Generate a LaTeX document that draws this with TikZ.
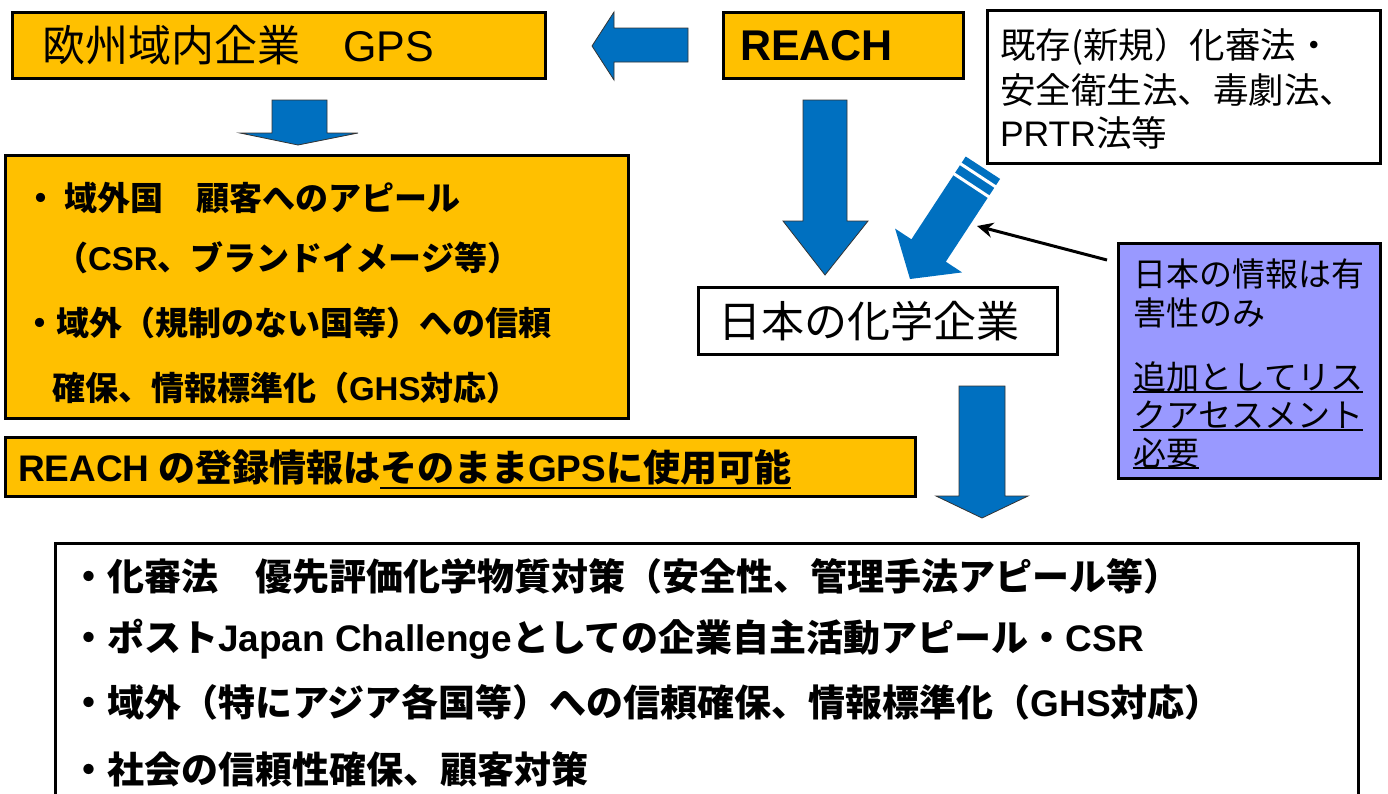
\documentclass[tikz,border=0pt]{standalone}
\usepackage{fontspec}
\setmainfont{Noto Sans CJK JP}
\newfontfamily\lsans{Liberation Sans}
\usetikzlibrary{arrows.meta}
\definecolor{orng}{HTML}{FFC000}
\definecolor{blu}{HTML}{0070C0}
\definecolor{purp}{HTML}{9999FF}
\newsavebox\ulbox
\newcommand\myul[2][-8pt]{\sbox\ulbox{#2}\rlap{\rule[#1]{\wd\ulbox}{2.5pt}}\usebox\ulbox}
\newcommand\la[1]{{\lsans #1}}
\newcommand\fs[1]{\fontsize{#1}{#1}\selectfont}
\begin{document}
\begin{tikzpicture}[x=1pt,y=-1pt,
  box/.style={draw=black, line width=3pt, anchor=north west, inner sep=0pt, outer sep=0pt},
  t/.style={anchor=base west, inner sep=0pt, outer sep=0pt},
  blockarrow/.style={fill=blu, draw=black!80, line width=0.8pt, line join=miter}]
\useasboundingbox (0,0) rectangle (1388,793);
\clip (0,0) rectangle (1388,793);
\fill[white] (0,0) rectangle (1388,793);

% top left box
\node[box, fill=orng, minimum width=533pt, minimum height=66pt] (gpsbox) at (12,12) {};
\node[t, font=\fs{43}] (gpstxt) at (42,61) {欧州域内企業　\la{GPS}};

% REACH box
\node[box, fill=orng, minimum width=240pt, minimum height=66pt] (reachbox) at (723,12) {};
\node[t, font=\fs{43}\bfseries] (reachtxt) at (740,60) {\la{REACH}};

% top right box
\node[box, fill=white, minimum width=393pt, minimum height=153pt] (lawbox) at (987,10) {};
\node[t, font=\fs{35.5}] (law1) at (1000,58) {既存(新規）化審法・};
\node[t, font=\fs{35.5}] (law2) at (1000,103) {安全衛生法、毒劇法、};
\node[t, font=\fs{35.5}] (law3) at (1000,146) {\la{PRTR}法等};

% left arrow
\path[blockarrow] (592,46) -- (614,12) -- (614,28) -- (688,28) -- (688,62) -- (614,62) -- (614,80) -- cycle;

% down arrow under GPS
\path[blockarrow] (272,100) -- (327,100) -- (327,133) -- (358,133) -- (298,145) -- (240,133) -- (272,133) -- cycle;

% left orange box
\node[box, fill=orng, minimum width=623pt, minimum height=263pt] (extbox) at (5,155) {};
\node[t, font=\fs{33}\bfseries] (ext1) at (24,210) {・\hspace{8pt}域外国　顧客へのアピール};
\node[t, font=\fs{33}\bfseries] (ext2) at (55,270) {（\la{CSR}、ブランドイメージ等）};
\node[t, font=\fs{33}\bfseries] (ext3) at (23,335) {・域外（規制のない国等）への信頼};
\node[t, font=\fs{33}\bfseries] (ext4) at (52,400) {確保、情報標準化（\la{GHS}対応）};

% REACH bar
\node[box, fill=orng, minimum width=910pt, minimum height=59pt] (barbox) at (5,437) {};
\node[t, font=\fs{37}\bfseries] (bartxt) at (18,481) {\la{REACH} の登録情報は\myul{そのまま\la{GPS}に使用可能}};

% REACH down arrow
\path[blockarrow] (803,100) -- (847,100) -- (847,221) -- (868,221) -- (825,275) -- (783,221) -- (803,221) -- cycle;

% diagonal striped arrow
\fill[blu] (910,279) -- (895.1,228.6) -- (911.4,239.3) -- (965.7,156.5) -- (1000.1,178.9) -- (945.8,261.7) -- (962.1,272.4) -- cycle;
\draw[white, line width=3pt] (959.5,163.1) -- (996.4,187.3);
\draw[white, line width=3pt] (953.0,173.2) -- (989.8,197.4);

% Japanese company box
\node[box, fill=white, minimum width=359pt, minimum height=67pt] (jpbox) at (698,287) {};
\node[t, font=\fs{43}] (jptxt) at (718,337) {日本の化学企業};

% purple box
\node[box, fill=purp, minimum width=262pt, minimum height=235pt] (infobox) at (1118,243) {};
\node[t, font=\fs{33}] (info1) at (1133,286) {日本の情報は有};
\node[t, font=\fs{33}] (info2) at (1133,325) {害性のみ};
\node[t, font=\fs{33}] (info3) at (1133,389) {\myul[-4pt]{追加としてリス}};
\node[t, font=\fs{33}] (info4) at (1133,427) {\myul[-4pt]{クアセスメント}};
\node[t, font=\fs{33}] (info5) at (1133,465) {\myul[-4pt]{必要}};

% thin arrow
\coordinate (pstart) at (1107,260);
\coordinate (ptip) at (977,226);
\draw[line width=3pt, -{Stealth[length=16pt,width=15pt]}] (pstart) -- (ptip);

% bottom right down arrow
\path[blockarrow] (959,386) -- (1005,386) -- (1005,496) -- (1028,496) -- (982,518) -- (936,496) -- (959,496) -- cycle;

% bottom box
\node[box, fill=white, minimum width=1303pt, minimum height=300pt] (botbox) at (55,543) {};
\node[t, font=\fs{37}\bfseries] (bot1) at (70,590) {・化審法　優先評価化学物質対策（安全性、管理手法アピール等）};
\node[t, font=\fs{37}\bfseries] (bot2) at (70,651) {・ポスト\la{Japan Challenge}としての企業自主活動アピール・\la{CSR}};
\node[t, font=\fs{37}\bfseries] (bot3) at (70,716) {・域外（特にアジア各国等）への信頼確保、情報標準化（\la{GHS}対応）};
\node[t, font=\fs{37}\bfseries] (bot4) at (70,783) {・社会の信頼性確保、顧客対策};
\end{tikzpicture}
\end{document}
